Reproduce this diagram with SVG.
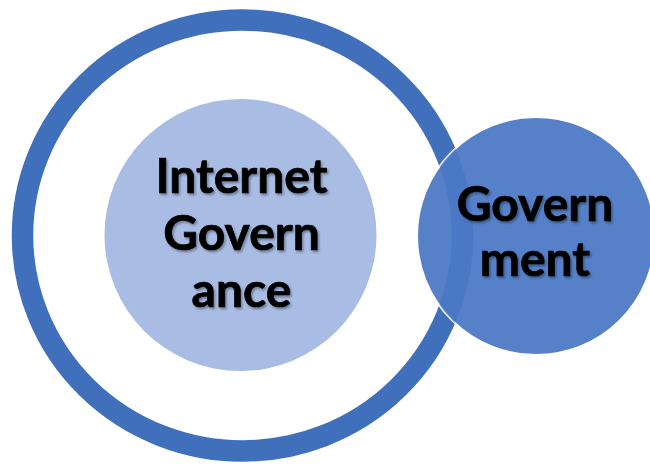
<svg xmlns="http://www.w3.org/2000/svg" width="650" height="464" viewBox="0 0 650 464">
<style>
.lbl{font-family:Lato,"Open Sans","Liberation Sans",sans-serif;font-weight:bold;font-size:48px;fill:#000;stroke:#000;stroke-width:0.7;text-anchor:middle;filter:url(#sh)}
</style>
<defs>
<filter id="sh" x="-10%" y="-20%" width="130%" height="150%">
<feDropShadow dx="1.5" dy="2" stdDeviation="1.2" flood-color="#000" flood-opacity="0.35"/>
</filter>
<clipPath id="gc"><circle cx="536" cy="236" r="119"/></clipPath>
</defs>
<g id="outer-ring">
<ellipse cx="242.5" cy="235.5" rx="220" ry="215.5" fill="none" stroke="#4070BC" stroke-width="21.5"/>
</g>
<g id="internet-governance">
<circle cx="240.5" cy="235" r="136" fill="#A9BDE4"/>
<text class="lbl"><tspan x="241.5" y="193">Internet</tspan><tspan x="241.5" y="250">Govern</tspan><tspan x="241.5" y="307">ance</tspan></text>
</g>
<g id="government">
<circle cx="536" cy="236" r="119" fill="#5681C9" stroke="#fff" stroke-width="2"/>
<ellipse cx="242.5" cy="235.5" rx="220" ry="215.5" fill="none" stroke="#3D6CBF" stroke-width="21.5" opacity="0.45" clip-path="url(#gc)"/>
<text class="lbl"><tspan x="535" y="221">Govern</tspan><tspan x="535" y="276">ment</tspan></text>
</g>
<g id="connectors"></g>
</svg>
